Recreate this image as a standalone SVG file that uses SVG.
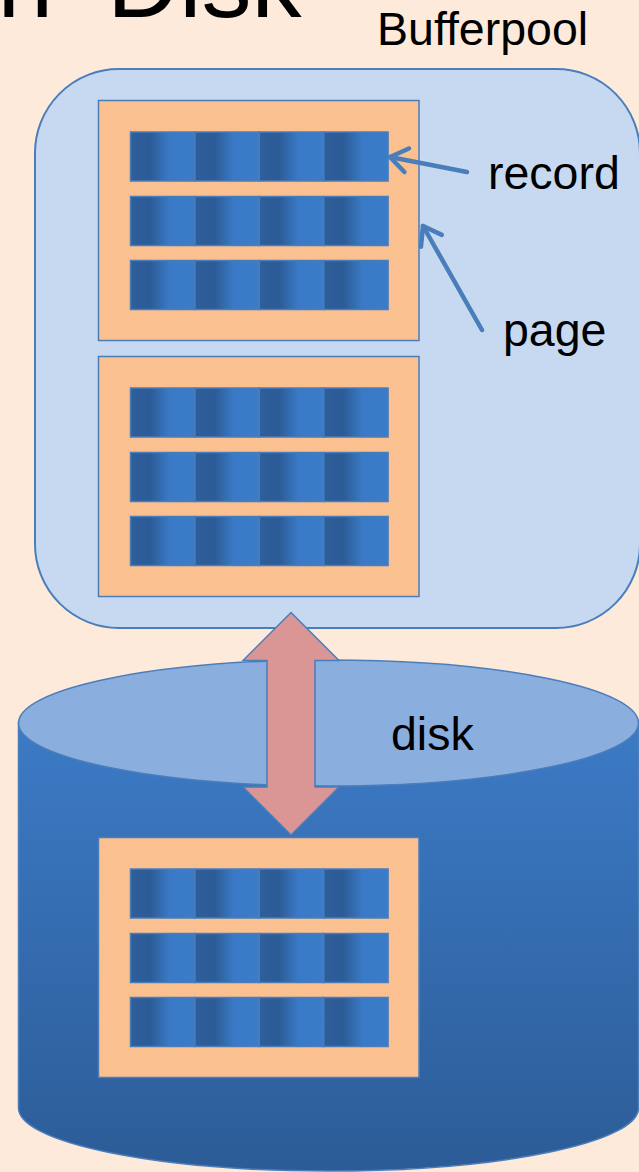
<svg xmlns="http://www.w3.org/2000/svg" xmlns:xlink="http://www.w3.org/1999/xlink" width="639" height="1172" viewBox="0 0 639 1172">
  <style>
    .lbl { font-family: "Liberation Sans", Arial, sans-serif; font-size: 46.5px; fill: #000; }
    .title { font-family: "Liberation Sans", Arial, sans-serif; font-size: 100px; fill: #000; }
    .page { fill: #FAC090; stroke: #4A7EBB; stroke-width: 1.5; }
    .cell { fill: url(#cellGrad); stroke: #4A7EBB; stroke-width: 1.5; }
    .edge { stroke: #4A7EBB; stroke-width: 4.5; fill: none; stroke-linecap: round; }
  </style>
  <defs>
    <linearGradient id="cellGrad" x1="0" y1="0" x2="1" y2="0">
      <stop offset="0" stop-color="#2E5F9B"/>
      <stop offset="0.3" stop-color="#2C5B96"/>
      <stop offset="0.6" stop-color="#3A79C5"/>
      <stop offset="1" stop-color="#3B7CC9"/>
    </linearGradient>
    <linearGradient id="bodyGrad" gradientUnits="userSpaceOnUse" x1="0" y1="700" x2="0" y2="1172">
      <stop offset="0" stop-color="#3D7CC8"/>
      <stop offset="1" stop-color="#2C5C97"/>
    </linearGradient>
    <marker id="openHead" markerUnits="userSpaceOnUse" markerWidth="40" markerHeight="40" viewBox="-25 -20 30 40" refX="0" refY="0" orient="auto" overflow="visible">
      <path d="M-17,-12 L0,0 L-17,12" fill="none" stroke="#4A7EBB" stroke-width="4.5" stroke-linecap="round" stroke-linejoin="round"/>
    </marker>
    <g id="row">
      <rect class="cell" x="0" y="0" width="64.4" height="49"/>
      <rect class="cell" x="64.4" y="0" width="64.4" height="49"/>
      <rect class="cell" x="128.8" y="0" width="64.4" height="49"/>
      <rect class="cell" x="193.2" y="0" width="64.4" height="49"/>
    </g>
    <g id="pageShape">
      <rect class="page" x="0" y="0" width="320.5" height="240"/>
      <use xlink:href="#row" href="#row" x="32" y="31.5"/>
      <use xlink:href="#row" href="#row" x="32" y="96"/>
      <use xlink:href="#row" href="#row" x="32" y="160"/>
    </g>
  </defs>

  <rect x="0" y="0" width="639" height="1172" fill="#FDEADA"/>

  <text class="title" x="-58" y="16.5" word-spacing="26">on Disk</text>

  <g id="bufferpool">
    <rect x="35" y="69" width="605" height="559" rx="84" ry="84" fill="#C6D9F1" stroke="#4A7EBB" stroke-width="2"/>
    <text class="lbl" x="377" y="44.5">Bufferpool</text>
  </g>

  <g id="page1">
    <use xlink:href="#pageShape" href="#pageShape" x="98.5" y="100.5"/>
  </g>
  <g id="page2">
    <use xlink:href="#pageShape" href="#pageShape" x="98.5" y="356.5"/>
  </g>

  <g id="disk">
    <path d="M18.5,723 L18.5,1108 A310,63 0 0 0 638.5,1108 L638.5,723 Z" fill="url(#bodyGrad)" stroke="#4A7EBB" stroke-width="1.5"/>
    <ellipse cx="328.5" cy="723" rx="310" ry="63" fill="#8AAEDE" stroke="#4A7EBB" stroke-width="1.5"/>
    <text class="lbl" x="391" y="750">disk</text>
  </g>

  <g id="page3">
    <use xlink:href="#pageShape" href="#pageShape" x="98.5" y="837.5"/>
  </g>

  <g id="record-label">
    <text class="lbl" x="488" y="189">record</text>
  </g>
  <g id="page-label">
    <text class="lbl" x="503" y="346">page</text>
  </g>

  <g id="connectors">
    <line class="edge" x1="467" y1="172" x2="390" y2="157" marker-end="url(#openHead)"/>
    <line class="edge" x1="482" y1="330" x2="423" y2="226" marker-end="url(#openHead)"/>
    <polygon id="transfer" points="291,612.5 339,660.5 315,660.5 315,787 339,787 291,835 243,787 267,787 267,660.5 243,660.5" fill="#D99694" stroke="#4A7EBB" stroke-width="1.5" stroke-linejoin="miter"/>
  </g>
</svg>
